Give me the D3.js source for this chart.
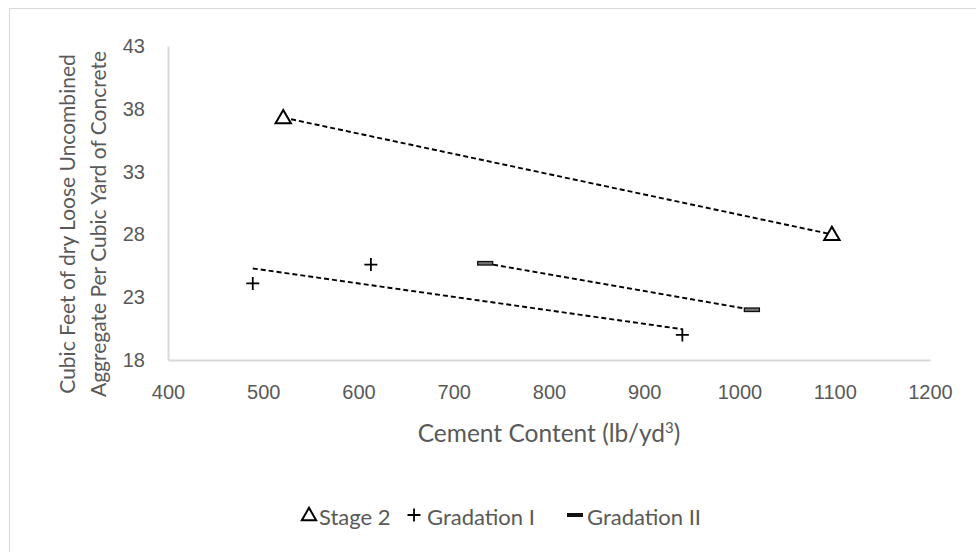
<!DOCTYPE html>
<html>
<head>
<meta charset="utf-8">
<script src="https://cdn.jsdelivr.net/npm/d3@7"></script>
<style>
  html, body { margin: 0; padding: 0; background: #fff; }
  svg { display: block; font-family: Lato, "Open Sans", sans-serif; }
</style>
</head>
<body>
<svg id="chart" width="976" height="552"></svg>
<script>
// Cement content (lb/yd³) and loose aggregate volume (ft³ per yd³ of concrete)
const stage2X = [521, 1097];
const stage2Y = [37.3, 28.0];
const grad1X = [489, 613, 940];
const grad1Y = [24.1, 25.6, 20.0];
const grad2X = [733, 1013];
const grad2Y = [25.7, 22.0];

const xTicks = [400, 500, 600, 700, 800, 900, 1000, 1100, 1200];
const yTicks = [18, 23, 28, 33, 38, 43];

const seriesNames = ["Stage 2", "Gradation I", "Gradation II"];

const svg = d3.select("#chart");
const plot = { left: 168, right: 930, top: 46, bottom: 360 };
const textColor = "#595959";
const axisColor = "#d9d9d9";

// chart frame
svg.append("rect")
  .attr("x", 9.5).attr("y", 8.5)
  .attr("width", 1000).attr("height", 600)
  .attr("fill", "none").attr("stroke", axisColor).attr("stroke-width", 1);

const x = d3.scaleLinear().domain([400, 1200]).range([plot.left, plot.right]);
const y = d3.scaleLinear().domain([18, 43]).range([plot.bottom, plot.top]);

// axes
const xAxis = svg.append("g")
  .attr("transform", `translate(0,${plot.bottom})`)
  .call(d3.axisBottom(x).tickValues(xTicks).tickSize(0).tickPadding(25).tickFormat(d3.format("d")));
xAxis.select(".domain").attr("stroke", axisColor).attr("stroke-width", 2);
xAxis.selectAll("text").attr("fill", textColor).attr("font-size", 20);

const yAxis = svg.append("g")
  .attr("transform", `translate(${plot.left},0)`)
  .call(d3.axisLeft(y).tickValues(yTicks).tickSize(0).tickPadding(23).tickFormat(d3.format("d")));
yAxis.select(".domain").attr("stroke", axisColor).attr("stroke-width", 2);
yAxis.selectAll("text").attr("fill", textColor).attr("font-size", 20);

// axis titles
const xTitle = svg.append("text")
  .attr("x", (plot.left + plot.right) / 2).attr("y", 442)
  .attr("text-anchor", "middle")
  .attr("fill", textColor).attr("font-size", 24.5);
xTitle.append("tspan").text("Cement Content (lb/yd");
xTitle.append("tspan").attr("dy", -9).attr("font-size", 15).text("3");
xTitle.append("tspan").attr("dy", 9).text(")");

const yCenter = 224;
[["Cubic Feet of dry Loose Uncombined", 75], ["Aggregate Per Cubic Yard of Concrete", 106]].forEach(([t, cx]) => {
  svg.append("text")
    .attr("transform", `translate(${cx},${yCenter}) rotate(-90)`)
    .attr("text-anchor", "middle")
    .attr("fill", textColor).attr("font-size", 21)
    .text(t);
});

// least-squares trendline over a series
function fit(xs, ys) {
  const mx = d3.mean(xs), my = d3.mean(ys);
  const sxy = d3.sum(xs, (v, i) => (v - mx) * (ys[i] - my));
  const sxx = d3.sum(xs, v => (v - mx) * (v - mx));
  const b = sxy / sxx, a = my - b * mx;
  const x0 = d3.min(xs), x1 = d3.max(xs);
  return [[x0, a + b * x0], [x1, a + b * x1]];
}

const line = d3.line().x(d => x(d[0])).y(d => y(d[1]));
[[stage2X, stage2Y], [grad1X, grad1Y], [grad2X, grad2Y]].forEach(([xs, ys]) => {
  svg.append("path")
    .attr("d", line(fit(xs, ys)))
    .attr("fill", "none").attr("stroke", "#000")
    .attr("stroke-width", 1.9).attr("stroke-dasharray", "5,3");
});

// marker shapes
function triangle(g, s) {
  g.append("path")
    .attr("d", `M0,${-s * 0.55}L${s * 0.55},${s * 0.4}L${-s * 0.55},${s * 0.4}Z`)
    .attr("fill", "#fff").attr("stroke", "#000").attr("stroke-width", 2);
}
function plus(g, s) {
  g.append("path")
    .attr("d", `M${-s / 2},0H${s / 2}M0,${-s / 2}V${s / 2}`)
    .attr("stroke", "#000").attr("stroke-width", 1.8).attr("fill", "none");
}
function bar(g, w, h) {
  g.append("rect")
    .attr("x", -w / 2).attr("y", -h / 2).attr("width", w).attr("height", h)
    .attr("fill", "#777").attr("stroke", "#111").attr("stroke-width", 1.3);
}

stage2X.forEach((v, i) => {
  triangle(svg.append("g").attr("transform", `translate(${x(v)},${y(stage2Y[i])})`), 14);
});
grad1X.forEach((v, i) => {
  plus(svg.append("g").attr("transform", `translate(${x(v)},${y(grad1Y[i])})`), 13);
});
grad2X.forEach((v, i) => {
  bar(svg.append("g").attr("transform", `translate(${x(v)},${y(grad2Y[i])})`), 15, 3.5);
});

// legend
const legendY = 516;
const legendItems = [
  { name: seriesNames[0], mx: 309, tx: 319, draw: g => triangle(g, 13) },
  { name: seriesNames[1], mx: 414, tx: 427, draw: g => plus(g, 13) },
  { name: seriesNames[2], mx: 575, tx: 587, draw: g => {
      g.append("rect").attr("x", -8).attr("y", -2).attr("width", 16).attr("height", 4).attr("fill", "#111");
    } }
];
legendItems.forEach(it => {
  it.draw(svg.append("g").attr("transform", `translate(${it.mx},${legendY - 1})`));
  svg.append("text")
    .attr("x", it.tx).attr("y", legendY)
    .attr("dominant-baseline", "central")
    .attr("fill", textColor).attr("font-size", 22)
    .text(it.name);
});
</script>
</body>
</html>
